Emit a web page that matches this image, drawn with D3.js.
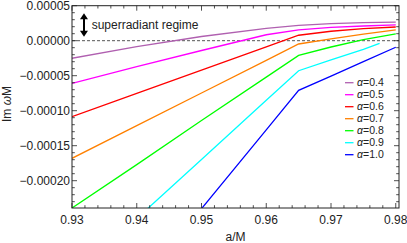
<!DOCTYPE html>
<html>
<head>
<meta charset="utf-8">
<script src="https://cdn.jsdelivr.net/npm/d3@7"></script>
<style>
  body { margin: 0; background: #fff; }
  svg { display: block; font-family: "Liberation Sans", Arial, sans-serif; }
  .tick-label { font-size: 12px; fill: #222; }
  .axis-title { font-size: 12px; fill: #222; }
  .legend-label { font-size: 10.5px; fill: #222; }
</style>
</head>
<body>
<div id="chart"></div>
<script>
// Data (Im omega M in units of 1e-5)
let spin = [0.93, 0.94, 0.95, 0.96, 0.965, 0.97, 0.975, 0.9775, 0.98];
let alphas = ["0.4", "0.5", "0.6", "0.7", "0.8", "0.9", "1.0"];
let imOmega04 = [-2.51, -0.85, 0.6, 1.75, 2.2, 2.45, 2.58, null, 2.65];
let imOmega05 = [-6.1, -3.7, -1.4, 0.85, 1.55, 1.9, 2.1, null, 2.25];
let imOmega06 = [-10.86, -7.53, -4.21, -0.88, 0.78, 1.35, 1.72, null, 1.96];
let imOmega07 = [-16.8, -12.13, -7.47, -2.8, -0.47, 0.25, 0.95, null, 1.55];
let imOmega08 = [-23.9, -17.7, -11.4, -5.2, -2.1, -0.9, 0.15, null, 0.96];
let imOmega09 = [null, -25.4, -16.97, -8.5, -4.29, -2.75, -1.25, -0.37, null];
let imOmega10 = [null, null, -24.0, -12.75, -7.1, -5.05, -3.0, null, -0.94];
let xTicks = [0.93, 0.94, 0.95, 0.96, 0.97, 0.98];
let yTicks = [0.00005, 0, -0.00005, -0.0001, -0.00015, -0.0002];

let seriesValues = [imOmega04, imOmega05, imOmega06, imOmega07, imOmega08, imOmega09, imOmega10];
let series = alphas.map((alpha, i) => ({
  alpha,
  points: spin
    .map((a, j) => ({ a, value: seriesValues[i][j] }))
    .filter((d) => d.value !== null)
    .map((d) => ({ a: d.a, value: d.value * 1e-5 })),
}));

// Set up dimensions
let width = 407;
let height = 243;
let margin = { top: 5.7, right: 8, bottom: 35, left: 72 };
let majorTick = 5;
let minorTick = 2.8;

// Set up colors
let colors = ["#b060b0", "#ff00ff", "#ff0000", "#ff8000", "#00ff00", "#00ffff", "#0000ff"];
let frameColor = "#222";

// Set up scales
let xScale = d3
  .scaleLinear()
  .domain([0.93, 0.9805])
  .range([margin.left, width - margin.right]);

let yScale = d3
  .scaleLinear()
  .domain([-0.000239, 0.00005])
  .range([height - margin.bottom, margin.top]);

let colorScale = d3.scaleOrdinal().domain(alphas).range(colors);

let formatX = (d) => d3.format(".2f")(d);
let formatY = (d) => (d < 0 ? "\u2212" : "") + d3.format(".5f")(Math.abs(d));

const svg = d3
  .select("#chart")
  .append("svg")
  .attr("width", width)
  .attr("height", height);

// Clip to plot area
svg
  .append("clipPath")
  .attr("id", "clip")
  .append("rect")
  .attr("x", margin.left)
  .attr("y", margin.top)
  .attr("width", width - margin.right - margin.left)
  .attr("height", height - margin.bottom - margin.top);

// Draw zero line
svg
  .append("line")
  .attr("x1", margin.left)
  .attr("x2", width - margin.right)
  .attr("y1", yScale(0))
  .attr("y2", yScale(0))
  .attr("stroke", "#555")
  .attr("stroke-width", 1)
  .attr("stroke-dasharray", "3,2");

// Draw lines
let line = d3
  .line()
  .x((d) => xScale(d.a))
  .y((d) => yScale(d.value));

svg
  .append("g")
  .attr("clip-path", "url(#clip)")
  .selectAll("path")
  .data(series)
  .join("path")
  .attr("fill", "none")
  .attr("stroke", (d) => colorScale(d.alpha))
  .attr("stroke-width", 1.3)
  .attr("d", (d) => line(d.points));

// Draw frame
let x0 = margin.left;
let x1 = width - margin.right;
let y0 = height - margin.bottom;
let y1 = margin.top;

svg
  .append("rect")
  .attr("x", x0)
  .attr("y", y1)
  .attr("width", x1 - x0)
  .attr("height", y0 - y1)
  .attr("fill", "none")
  .attr("stroke", frameColor)
  .attr("stroke-width", 1);

// Draw ticks
let xMinor = d3.range(0.93, 0.9801, 0.002).filter((d) => Math.abs(Math.round(d * 100) - d * 100) > 1e-6);
let yMinor = d3.range(-0.00023, 0.000051, 0.00001).filter((d) => Math.abs(Math.round(d * 20000) - d * 20000) > 1e-6);

let tickG = svg.append("g").attr("stroke", frameColor).attr("stroke-width", 0.8);

[[xTicks, majorTick], [xMinor, minorTick]].forEach(([ticks, len]) => {
  tickG
    .append("g")
    .selectAll("path")
    .data(ticks)
    .join("path")
    .attr("d", (d) => {
      let x = xScale(d);
      return `M${x},${y0}V${y0 - len}M${x},${y1}V${y1 + len}`;
    });
});

[[yTicks, majorTick], [yMinor, minorTick]].forEach(([ticks, len]) => {
  tickG
    .append("g")
    .selectAll("path")
    .data(ticks)
    .join("path")
    .attr("d", (d) => {
      let y = yScale(d);
      return `M${x0},${y}H${x0 + len}M${x1},${y}H${x1 - len}`;
    });
});

// Draw tick labels
svg
  .append("g")
  .selectAll("text")
  .data(xTicks)
  .join("text")
  .attr("class", "tick-label")
  .attr("x", (d) => xScale(d))
  .attr("y", y0 + 16)
  .attr("text-anchor", "middle")
  .text(formatX);

svg
  .append("g")
  .selectAll("text")
  .data(yTicks)
  .join("text")
  .attr("class", "tick-label")
  .attr("x", x0 - 2)
  .attr("y", (d) => yScale(d))
  .attr("dy", "0.35em")
  .attr("text-anchor", "end")
  .text(formatY);

// Draw axis titles
svg
  .append("text")
  .attr("class", "axis-title")
  .attr("x", (x0 + x1) / 2)
  .attr("y", height - 2.5)
  .attr("text-anchor", "middle")
  .text("a/M");

let yTitle = svg
  .append("text")
  .attr("class", "axis-title")
  .attr("transform", `translate(11,104) rotate(-90)`)
  .attr("text-anchor", "middle");
yTitle.append("tspan").text("Im ");
yTitle.append("tspan").attr("font-style", "italic").text("\u03c9");
yTitle.append("tspan").text("M");

// Draw superradiant arrow
let arrowX = xScale(0.93185);
let arrowTop = yScale(0.0000392);
let arrowBottom = yScale(0.0000057);
let head = 6;
let halfW = 4;
let arrowG = svg.append("g").attr("fill", "#000");
arrowG
  .append("line")
  .attr("x1", arrowX)
  .attr("x2", arrowX)
  .attr("y1", arrowTop + head - 1)
  .attr("y2", arrowBottom - head + 1)
  .attr("stroke", "#000")
  .attr("stroke-width", 2);
arrowG
  .append("path")
  .attr("d", `M${arrowX},${arrowTop}L${arrowX - halfW},${arrowTop + head}L${arrowX + halfW},${arrowTop + head}Z`);
arrowG
  .append("path")
  .attr("d", `M${arrowX},${arrowBottom}L${arrowX - halfW},${arrowBottom - head}L${arrowX + halfW},${arrowBottom - head}Z`);

svg
  .append("text")
  .attr("class", "axis-title")
  .attr("x", xScale(0.93304))
  .attr("y", yScale(0.0000225))
  .attr("dy", "0.35em")
  .text("superradiant regime");

// Draw legend
let legendItem = svg
  .append("g")
  .selectAll("g")
  .data(alphas)
  .join("g")
  .attr("transform", (d, i) => `translate(345,${82.7 + i * 12})`);

legendItem
  .append("line")
  .attr("x1", 0)
  .attr("x2", 8.5)
  .attr("stroke", (d) => colorScale(d))
  .attr("stroke-width", 1.3);

let legendText = legendItem
  .append("text")
  .attr("class", "legend-label")
  .attr("x", 12)
  .attr("dy", "0.35em");
legendText.append("tspan").attr("font-style", "italic").text("\u03b1");
legendText.append("tspan").text((d) => "=" + d);
</script>
</body>
</html>
